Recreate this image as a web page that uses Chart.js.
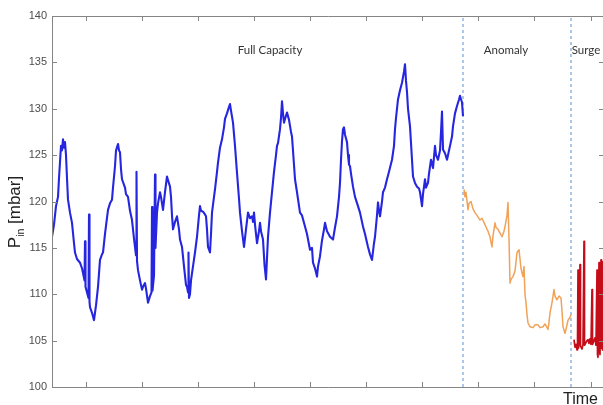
<!DOCTYPE html>
<html>
<head>
<meta charset="utf-8">
<script src="https://cdn.jsdelivr.net/npm/chart.js@4/dist/chart.umd.min.js"></script>
<style>
    html, body { margin: 0; padding: 0; background: #fff; overflow: hidden; }
    #wrap { position: relative; width: 610px; height: 405px; }
</style>
</head>
<body>
<div id="wrap"><canvas id="pressureChart"></canvas></div>
<script>
// Inlet pressure over time, [time (samples), pressure (mbar)]
const fullCapacity = [
    [0,116.2],[2,117.5],[4,119.5],[6,120.5],[7,122.5],[9,126],[10,125.5],[11,126.7],[12,125.8],[13,126.4],
    [14,125],[15,122.5],[16,120.2],[18,118.8],[20,117.7],[22,115.5],[23,114.5],[25,113.8],[28,113.4],[30,112.8],
    [31,112.3],[32.5,111.5],[33,115.7],[33.5,110.8],[35,110.2],[36.5,109.6],[37,118.6],[37.5,109.2],[38,108.6],[40,108],
    [42,107.2],[44,108.8],[46,110.8],[48,113.7],[50,114.3],[51,114.5],[53,116.5],[56,119.1],[58,119.8],[60,120.2],
    [61,121.5],[63,123.8],[64,125.5],[66,126.2],[67,125.5],[68,125.3],[69,123.5],[70,122.4],[72,121.8],[73,121.5],
    [74,120.8],[76,120.5],[78,119],[80,118],[82,116],[84,114.2],[84.5,123.2],[85,113.6],[86,112.6],[88,111.5],
    [90,110.5],[91,110.8],[93,111.2],[94,110.6],[96,109.1],[98,109.8],[99.5,110.2],[100,119.4],[100.5,110.4],[102,112],
    [103,122.9],[103.5,115],[105,118.8],[106,119.8],[108,121],[109,120.5],[111,119.1],[113,121],[115,122.7],[116,122.3],
    [118,121.6],[119,120.5],[120,118.5],[121,117],[123,117.8],[125,118.4],[127,117],[128,115.9],[130,115.1],[132,113],
    [134,111],[135,110.8],[136,110.2],[136.5,114.5],[137,109.6],[138,110],[139,111.5],[141,113],[143,114.5],[145,116.2],
    [147,118.5],[148,119.5],[149,119],[151,118.9],[153,118.6],[154,118.4],[155,117],[156,115.1],[158,114.5],[159,116.5],
    [160,118.8],[162,120.5],[163,121.3],[165,123.2],[166,124.2],[168,125.8],[170,126.7],[172,128],[173,128.9],[175,129.5],
    [177,130.2],[178,130.5],[179,129.8],[181,128.5],[183,126],[185,123.1],[187,120.3],[188,118.8],[190,116.8],[192,115.1],
    [194,117],[196,118.8],[198,118.2],[200,118.4],[201,117.8],[202,118.8],[203,117.5],[205,115.5],[207,116.8],[208,117.7],
    [209,116.8],[211,115.9],[212.5,113.2],[214,111.6],[216,116.2],[218,118.8],[220,121],[222,123.2],[224,125],[225,126],
    [226,126.3],[228,127.8],[229,129],[230,130.8],[231,129.5],[232,128.5],[233,128.9],[235,129.6],[237,128.8],[239,127.5],
    [240,127],[241,125.5],[243,122.4],[245,121],[248,118.8],[250,118.5],[253,117.3],[255,116.5],[258,114.8],[260,115],
    [261,113.4],[263,112.8],[265,111.9],[266,113],[268,114.1],[270,115.8],[272,117],[273,117.7],[275,116.8],[276,116.6],
    [278,116.2],[281,115.9],[283,117.2],[285,118.4],[287,120.5],[288,122],[289,124.5],[290,126.5],[291,127.8],[292,128],
    [293,127.2],[295,126.4],[296,125],[297,124],[298,123.8],[299,123],[301,121.6],[303,120.5],[306,119.5],[308,118.8],
    [311,117.3],[313,116.5],[316,115.1],[318,114.3],[320,113.7],[322,115.5],[323,116.2],[325,118.5],[326,119.9],[327,119],
    [328,118.4],[330,120],[331,121],[333,121.5],[335,122.4],[337,123.2],[340,124.5],[342,126],[343,127.8],[344,129],
    [346,131],[348,132],[350,132.8],[352,134],[353,134.8],[354,133],[355,131.8],[356,130],[358,128.1],[360,124.5],
    [361,122.7],[363,122],[365,121.6],[367,121.4],[368,121],[370,119.5],[371,120.8],[373,122.4],[374,121.5],[376,122],
    [377,123],[379,124.5],[381,123.6],[383,126],[384,125],[386,124.5],[388,125.5],[389,127.5],[390,129.7],[391,125.6],
    [393,125.2],[395,124.5],[397,125.5],[398,126],[400,127],[401,128.1],[403,129.5],[405,130.3],[407,131],[408,131.4],
    [409,131],[410,130.7],[411,129.2]
];

const anomaly = [
    [412,121.3],[413,120.5],[414,121],[416,119.1],[417,119.8],[419,120],[421,119.2],[423,118.8],[425,118.5],[428,118],
    [430,118.2],[433,117.5],[435,117],[436,116.8],[438,116.2],[439,115.6],[440,115.1],[441,116.3],[443,117.7],[444,117.2],
    [446,117],[448,116.6],[450,116.2],[452,116.8],[453,117.3],[455,118.5],[456,119.9],[457,116],[458,111.2],[459,111.6],
    [461,111.9],[463,112.5],[465,114.5],[467,114.8],[468,113.8],[469,112.8],[470,112.3],[471,111.9],[472,113],[473,110],
    [474,109.1],[475,107.8],[476,106.9],[478,106.5],[481,106.4],[483,106.7],[486,106.7],[488,106.4],[491,106.5],[493,106.8],
    [496,106.2],[497,107],[498,108],[500,109.1],[502,110.5],[503,109.8],[505,109.4],[507,109.8],[509,109.6],[510,108.2],
    [511,106.5],[513,105.8],[514,106.2],[516,107.2],[518,107.5],[519,107.8]
];

const surge = [
    [522,105.1],[523,104.3],[524,104.6],[525,104],[525.5,104.5],[526,112.6],[526.5,104.2],[527,104.8],[528,113.2],[528.5,104.4],
    [530,104.1],[531,104.6],[532,115.7],[532.5,104.5],[534,104.8],[535,105],[536,105.1],[537,104.7],[538,105.2],[539,104.6],
    [540,110.5],[540.5,104.6],[542,105],[543,105.3],[544,104.5],[545,112.6],[545.5,103.5],[546,103.2],[547,113.4],[547.5,104],
    [548,103.5],[549,113.7],[549.5,104.2],[550,112],[550.5,104],[551,113.5],[552,105]
];

// phase boundaries (time) and labels
const phaseBoundaries = [411, 519];
const phaseLabels = ['Full Capacity', 'Anomaly', 'Surge'];
const phaseLabelTimes = [218, 454, 534];
const phaseLabelLevel = 136.3;

const xTicks = [34, 90, 146, 202, 258, 314, 370, 426, 482, 539];
const yTicks = [100, 105, 110, 115, 120, 125, 130, 135, 140];

const toPoints = arr => arr.map(p => ({ x: p[0], y: p[1] }));

const lineStyle = (color, width) => ({
    borderColor: color,
    borderWidth: width,
    pointRadius: 0,
    tension: 0,
    fill: false,
    borderJoinStyle: 'round'
});

const datasets = [
    { data: toPoints(fullCapacity), ...lineStyle('#2626e0', 2.1) },
    { data: toPoints(anomaly), ...lineStyle('#f0a257', 1.5) },
    { data: toPoints(surge), ...lineStyle('#c50d1a', 1.7) }
];

phaseBoundaries.forEach(t => {
    datasets.push({
        data: [{ x: t, y: yTicks[0] }, { x: t, y: yTicks[yTicks.length - 1] }],
        ...lineStyle('#5b8fd4', 1),
        borderDash: [3, 3]
    });
});

// box, inward ticks and annotation text
const boxPlugin = {
    id: 'box',
    afterDraw(chart) {
        const { ctx, chartArea: a, scales: { x, y } } = chart;
        ctx.save();
        ctx.strokeStyle = '#858585';
        ctx.lineWidth = 1;
        ctx.beginPath();
        ctx.moveTo(a.left + 0.5, a.top + 0.5);
        ctx.lineTo(a.right, a.top + 0.5);
        ctx.moveTo(a.left + 0.5, a.top);
        ctx.lineTo(a.left + 0.5, a.bottom + 0.5);
        ctx.lineTo(a.right, a.bottom + 0.5);
        ctx.moveTo(a.right - 0.5, a.top);
        ctx.lineTo(a.right - 0.5, a.bottom);
        xTicks.forEach(v => {
            const px = Math.round(x.getPixelForValue(v)) + 0.5;
            ctx.moveTo(px, a.bottom);
            ctx.lineTo(px, a.bottom - 5);
            ctx.moveTo(px, a.top);
            ctx.lineTo(px, a.top + 5);
        });
        yTicks.forEach(v => {
            const py = Math.round(y.getPixelForValue(v)) + 0.5;
            ctx.moveTo(a.left, py);
            ctx.lineTo(a.left + 5, py);
            ctx.moveTo(a.right, py);
            ctx.lineTo(a.right - 5, py);
        });
        ctx.stroke();

        // phase labels
        ctx.fillStyle = '#333';
        ctx.font = '11.5px Lato, "Open Sans", sans-serif';
        ctx.textAlign = 'center';
        ctx.textBaseline = 'middle';
        phaseLabels.forEach((label, i) => {
            ctx.fillText(label, x.getPixelForValue(phaseLabelTimes[i]), y.getPixelForValue(phaseLabelLevel));
        });

        // x axis title
        ctx.fillStyle = '#222';
        ctx.font = '16px "Liberation Sans", Arial, sans-serif';
        ctx.textAlign = 'right';
        ctx.textBaseline = 'alphabetic';
        ctx.fillText('Time', 598, 404);

        // y axis title with subscript
        ctx.translate(20, 212);
        ctx.rotate(-Math.PI / 2);
        const big = '17px "Liberation Sans", Arial, sans-serif';
        const small = '10.5px "Liberation Sans", Arial, sans-serif';
        ctx.font = big;
        const wP = ctx.measureText('P').width;
        const wRest = ctx.measureText(' [mbar]').width;
        ctx.font = small;
        const wSub = ctx.measureText('in').width;
        let cx = -(wP + wSub + wRest) / 2;
        ctx.textAlign = 'left';
        ctx.font = big;
        ctx.fillText('P', cx, 0);
        cx += wP;
        ctx.font = small;
        ctx.fillText('in', cx, 4);
        cx += wSub;
        ctx.font = big;
        ctx.fillText(' [mbar]', cx, 0);
        ctx.restore();
    }
};

new Chart(document.getElementById('pressureChart'), {
    type: 'line',
    data: { datasets },
    options: {
        responsive: true,
        maintainAspectRatio: false,
        animation: false,
        layout: { padding: { left: 0, top: 16, right: 6, bottom: 0 } },
        plugins: {
            legend: { display: false },
            tooltip: { enabled: false }
        },
        scales: {
            x: {
                type: 'linear',
                min: 0,
                max: 552,
                afterBuildTicks: scale => { scale.ticks = xTicks.map(v => ({ value: v })); },
                afterFit: scale => { scale.height = 18; },
                ticks: { display: false },
                grid: { display: false },
                border: { display: false }
            },
            y: {
                min: 100,
                max: 140,
                afterBuildTicks: scale => { scale.ticks = yTicks.map(v => ({ value: v })); },
                afterFit: scale => { scale.width = 52; },
                ticks: {
                    color: '#4d4d4d',
                    padding: 5,
                    font: { family: '"Liberation Sans", Arial, sans-serif', size: 11 }
                },
                grid: { display: false, drawTicks: false },
                border: { display: false }
            }
        }
    },
    plugins: [boxPlugin]
});
</script>
</body>
</html>
